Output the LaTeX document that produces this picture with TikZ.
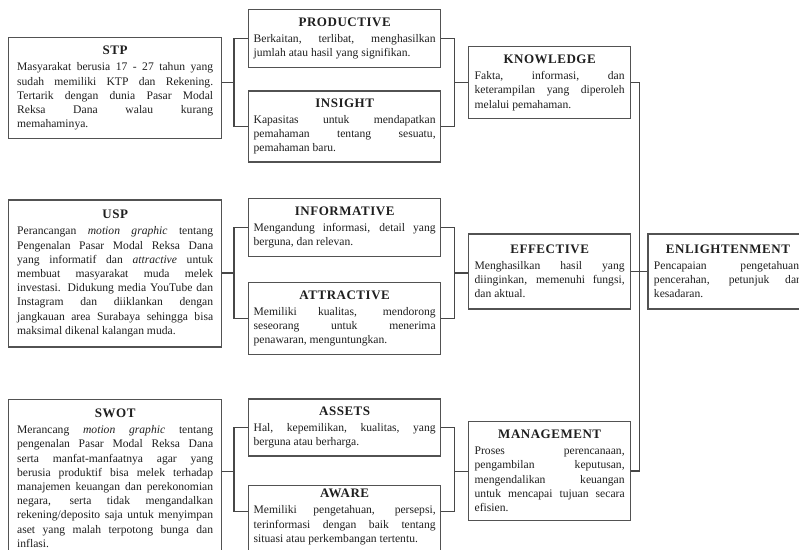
\documentclass[tikz,border=0pt]{standalone}
\usepackage{fontspec}
\setmainfont{Liberation Serif}
\newfontfamily\ttlfamily[LetterSpace=4]{Liberation Serif}
\usepackage{tikz}
\usetikzlibrary{positioning, calc}
\colorlet{colorBorder}{black!68}
\colorlet{colorLink}{black!72}
\colorlet{colorText}{black!88}
\newcommand{\boxtext}[2]{{\centering\ttlfamily\bfseries\fontsize{13}{15}\selectfont #1\par}\vspace{2pt}\noindent #2}
\hyphenpenalty=10000
\exhyphenpenalty=10000
\tolerance=10000
\hbadness=10000

\begin{document}
\begin{tikzpicture}[x=1pt, y=-1pt,
  box/.style={draw=colorBorder, line width=1.3pt, text=colorText, align=justify, font=\fontsize{11.6}{14.2}\selectfont, inner ysep=4pt},
  lbox/.style={box, text width=196pt, inner xsep=8.5pt},
  mbox/.style={box, text width=182pt, inner xsep=5pt},
  rbox/.style={box, text width=150pt, inner xsep=6pt},
  link/.style={draw=colorLink, line width=1.5pt}]
\useasboundingbox (0,0) rectangle (799,549);
\fill[white] (0,0) rectangle (799,549);
\clip (0,0) rectangle (799,549);
% left column
\node[lbox, anchor=north west, minimum height=101pt] (stp) at (8,37) {\boxtext{STP}{Masyarakat berusia 17 - 27 tahun yang\linebreak sudah memiliki KTP dan Rekening.\linebreak Tertarik dengan dunia Pasar Modal\linebreak Reksa Dana walau kurang\linebreak memahaminya.}};
\node[lbox, below=60pt of stp, minimum height=147pt] (usp) {\boxtext{USP}{Perancangan \emph{motion graphic} tentang\linebreak Pengenalan Pasar Modal Reksa Dana\linebreak yang informatif dan \emph{attractive} untuk\linebreak membuat masyarakat muda melek\linebreak investasi. Didukung media YouTube dan\linebreak Instagram dan diiklankan dengan\linebreak jangkauan area Surabaya sehingga bisa\linebreak maksimal dikenal kalangan muda.}};
\node[lbox, below=51pt of usp, minimum height=158pt] (swot) {\boxtext{SWOT}{Merancang \emph{motion graphic} tentang\linebreak pengenalan Pasar Modal Reksa Dana\linebreak serta manfat-manfaatnya agar yang\linebreak berusia produktif bisa melek terhadap\linebreak manajemen keuangan dan perekonomian\linebreak negara, serta tidak mengandalkan\linebreak rekening/deposito saja untuk menyimpan\linebreak aset yang malah terpotong bunga dan\linebreak inflasi.}};
% middle column
\node[mbox, anchor=north west, minimum height=58pt] (prod) at (248,9) {\boxtext{PRODUCTIVE}{Berkaitan, terlibat, menghasilkan\linebreak jumlah atau hasil yang signifikan.}};
\node[mbox, below=22pt of prod, minimum height=71pt] (ins) {\boxtext{INSIGHT}{Kapasitas untuk mendapatkan\linebreak pemahaman tentang sesuatu,\linebreak pemahaman baru.}};
\node[mbox, below=35pt of ins, minimum height=58pt] (inf) {\boxtext{INFORMATIVE}{Mengandung informasi, detail yang\linebreak berguna, dan relevan.}};
\node[mbox, below=25pt of inf, minimum height=72pt] (att) {\boxtext{ATTRACTIVE}{Memiliki kualitas, mendorong\linebreak seseorang untuk menerima\linebreak penawaran, menguntungkan.}};
\node[mbox, below=43pt of att, minimum height=57pt] (ast) {\boxtext{ASSETS}{Hal, kepemilikan, kualitas, yang\linebreak berguna atau berharga.}};
\node[mbox, anchor=north, minimum height=76pt] (awr) at ($(ast.south)+(0,28)$) {\boxtext{AWARE}{Memiliki pengetahuan, persepsi,\linebreak terinformasi dengan baik tentang\linebreak situasi atau perkembangan tertentu.\par\vspace{14pt}}};
% right column
\node[rbox, anchor=north west, minimum height=72pt] (know) at (468,46) {\boxtext{KNOWLEDGE}{Fakta, informasi, dan\linebreak keterampilan yang diperoleh\linebreak melalui pemahaman.}};
\node[rbox, below=114pt of know, minimum height=75pt] (eff) {\boxtext{EFFECTIVE}{Menghasilkan hasil yang\linebreak diinginkan, memenuhi fungsi,\linebreak dan aktual.}};
\node[rbox, below=111pt of eff, minimum height=99pt] (man) {\boxtext{MANAGEMENT}{Proses perencanaan,\linebreak pengambilan keputusan,\linebreak mengendalikan keuangan\linebreak untuk mencapai tujuan secara\linebreak efisien.}};
\node[rbox, text width=148pt, anchor=west, minimum height=75pt] (enl) at ($(eff.east)+(16,0)$) {\boxtext{ENLIGHTENMENT}{Pencapaian pengetahuan,\linebreak pencerahan, petunjuk dan\linebreak kesadaran.}};
% brackets
\coordinate (j1) at ($(prod.west)!.5!(ins.west)+(-14,0)$);
\coordinate (j2) at ($(inf.west)!.5!(att.west)+(-14,0)$);
\coordinate (j3) at ($(ast.west)+(-14,44)$);
\coordinate (k1) at ($(prod.east)!.5!(ins.east)+(13,0)$);
\coordinate (k2) at ($(inf.east)!.5!(att.east)+(13,0)$);
\coordinate (k3) at ($(ast.east)+(13,44)$);
\draw[link] (prod.west) -| (j1) |- (ins.west);
\draw[link] (inf.west) -| (j2) |- (att.west);
\draw[link] (ast.west) -| (j3) |- ($(awr.north west)+(0,27)$);
\draw[link] (j1) -- (j1 -| stp.east);
\draw[link] (j2) -- (j2 -| usp.east);
\draw[link] (j3) -- (j3 -| swot.east);
\draw[link] (prod.east) -| (k1) |- (ins.east);
\draw[link] (inf.east) -| (k2) |- (att.east);
\draw[link] (ast.east) -| (k3) |- ($(awr.north east)+(0,27)$);
\draw[link] (k1) -- (k1 -| know.west);
\draw[link] (k2) -- (k2 -| eff.west);
\draw[link] (k3) -- (k3 -| man.west);
\draw[link] (know.east) -- ++(8,0) |- (man.east);
\draw[link] (eff.east) -- (enl.west);
\end{tikzpicture}
\end{document}
